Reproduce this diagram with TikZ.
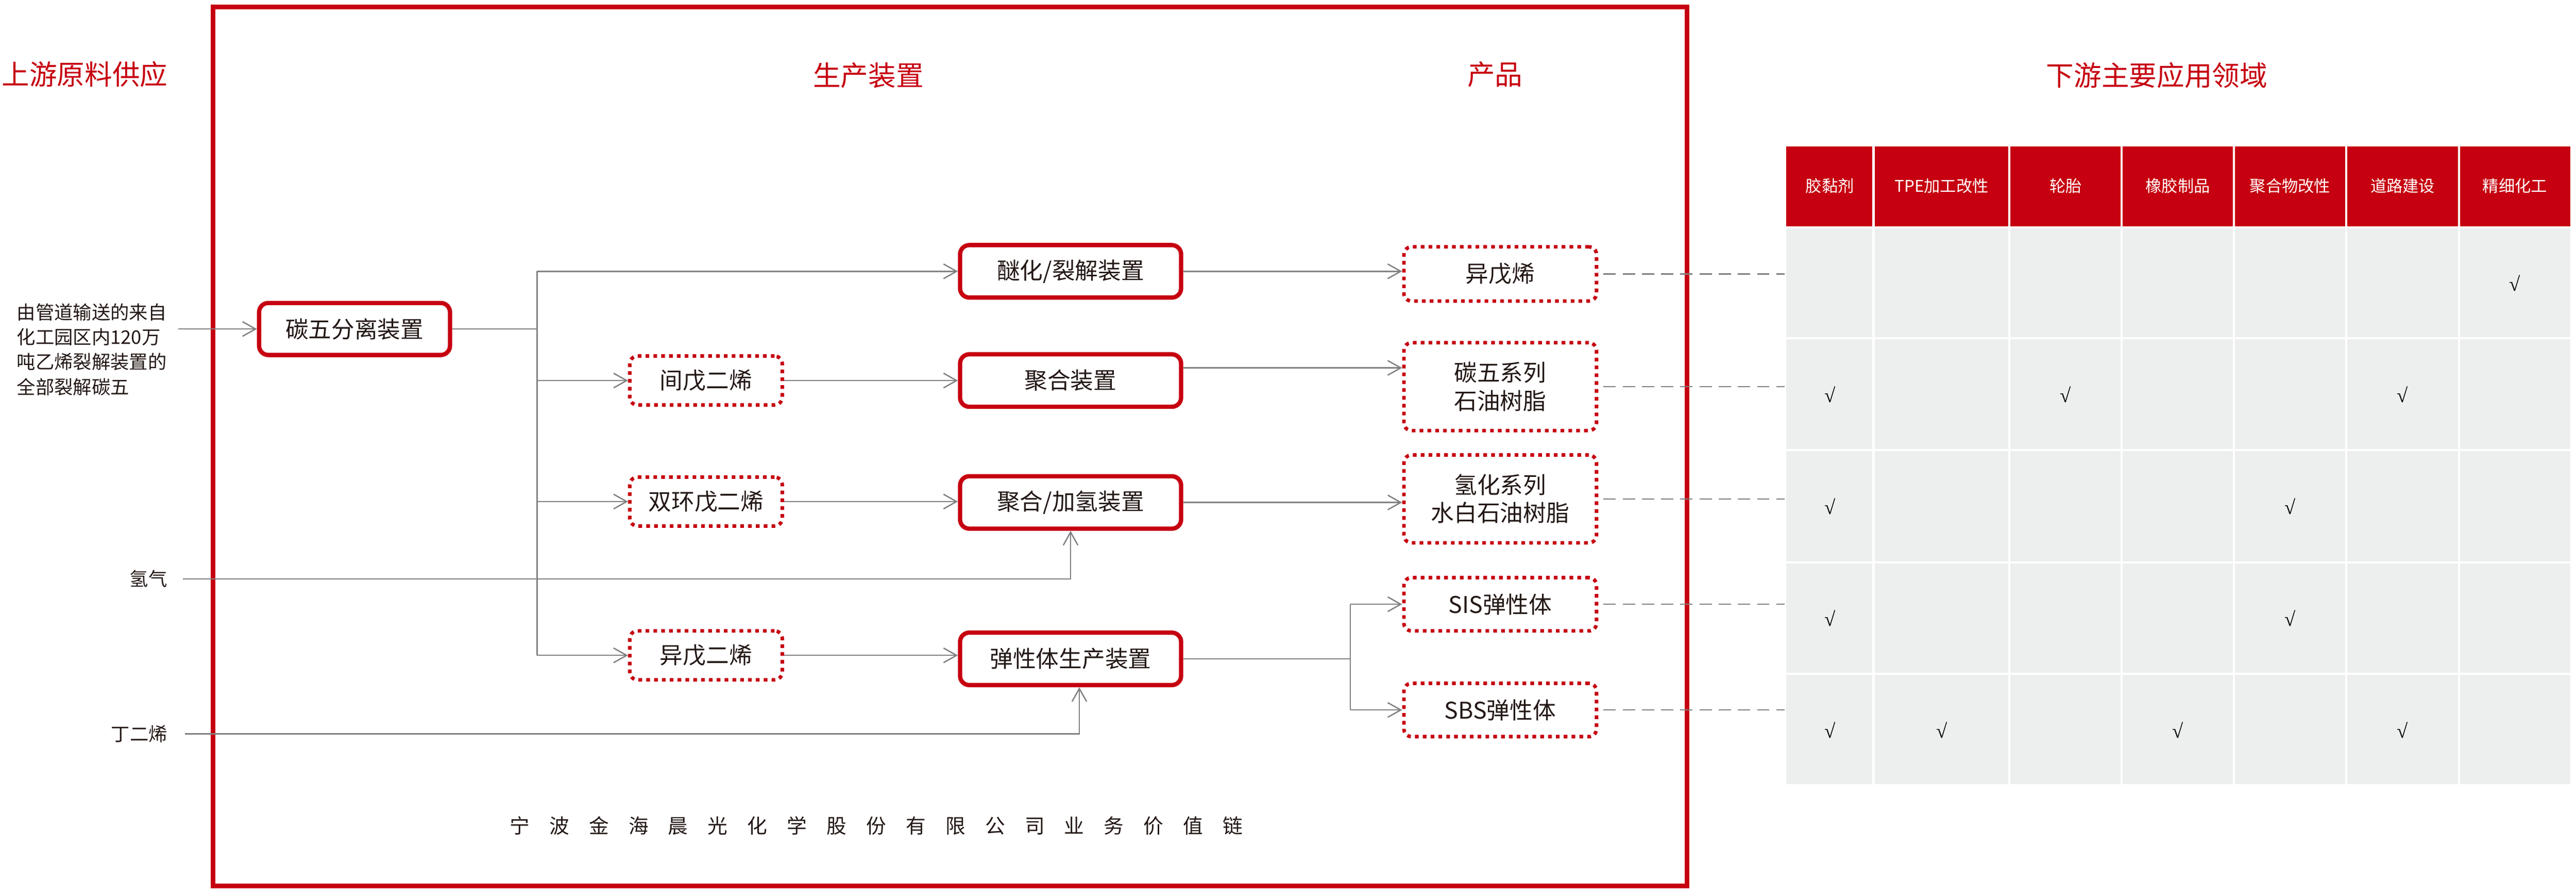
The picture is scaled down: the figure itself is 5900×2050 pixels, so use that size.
\documentclass[tikz,border=0pt]{standalone}
\usepackage{fontspec}
\setmainfont{Noto Sans CJK SC}
\newfontfamily\ckfont{Liberation Serif}
\usetikzlibrary{arrows.meta,calc}
\definecolor{cred}{RGB}{198,0,16}
\definecolor{cgray}{RGB}{128,128,128}
\definecolor{cbody}{RGB}{237,238,238}
\definecolor{ctext}{RGB}{35,24,21}
\begin{document}
\begin{tikzpicture}[x=0.01cm,y=-0.01cm,
  title/.style={text=cred,font=\fontsize{18pt}{20pt}\selectfont,inner sep=0pt},
  boxfont/.style={font=\fontsize{15pt}{18.2pt}\selectfont},
  solidbox/.style={draw=cred,line width=2.8pt,rounded corners=6pt,fill=white,
    minimum width=5.06cm,minimum height=1.2cm,text=ctext,boxfont,align=center,inner sep=0pt},
  dotbox/.style={draw=cred,line width=2.3pt,dash pattern=on 2.4pt off 2.7pt,rounded corners=5pt,
    fill=white,text=ctext,boxfont,align=center,inner sep=0pt},
  midbox/.style={dotbox,minimum width=3.49cm,minimum height=1.12cm},
  prodbox/.style={dotbox,minimum width=4.41cm},
  lefttext/.style={text=ctext,font=\fontsize{12.2pt}{16.2pt}\selectfont,inner sep=0pt},
  ln/.style={draw=cgray,line width=0.85pt},
  arr/.style={ln,-{Straight Barb[length=8.5pt,width=9.5pt]}},
  dsh/.style={draw=cgray,line width=0.85pt,dash pattern=on 8pt off 4.5pt},
  hd/.style={text=white,font=\fontsize{10.5pt}{12pt}\selectfont,inner sep=0pt},
  ck/.style={text=black,font=\ckfont\fontsize{13pt}{14pt}\selectfont,inner sep=0pt},
  comp/.style={text=ctext,font=\fontsize{13pt}{15pt}\selectfont,inner sep=0pt}
]
\useasboundingbox (0,0) rectangle (5900,2050);

% frame
\draw[cred,line width=2.85pt] (488,16) rectangle (3864,2028);

% titles
\node[title] (t1) at (194,170) {上游原料供应};
\node[title] (t2) at (1989,172) {生产装置};
\node[title] (t3) at (3424,170) {产品};
\node[title] (t4) at (4940,172) {下游主要应用领域};

% left inputs
\node[lefttext,anchor=west,align=left] (feed) at (38,800)
  {由管道输送的来自\\化工园区内120万\\吨乙烯裂解装置的\\全部裂解碳五};
\coordinate (fa) at (408,753);
\node[lefttext] (h2) at (340,1325) {氢气};
\node[lefttext] (bd) at (319,1680) {丁二烯};

% separation
\node[solidbox,minimum width=4.37cm,minimum height=1.19cm] (sep) at (812,753) {碳五分离装置};

% intermediates
\node[midbox] (jw) at (1617,871) {间戊二烯};
\node[midbox] (sh) at (1617,1148) {双环戊二烯};
\node[midbox] (yw) at (1617,1500) {异戊二烯};

% process units
\node[solidbox] (mh) at (2452,621) {醚化/裂解装置};
\node[solidbox] (jh) at (2452,871) {聚合装置};
\node[solidbox] (jq) at (2452,1150) {聚合/加氢装置};
\node[solidbox] (tx) at (2452,1508) {弹性体生产装置};

% products
\node[prodbox,minimum height=1.24cm] (p1) at (3436,627) {异戊烯};
\node[prodbox,minimum height=2.01cm] (p2) at (3436,885) {碳五系列\\石油树脂};
\node[prodbox,minimum height=2.01cm] (p3) at (3436,1142) {氢化系列\\水白石油树脂};
\node[prodbox,minimum height=1.22cm] (p4) at (3436,1383) {SIS弹性体};
\node[prodbox,minimum height=1.22cm] (p5) at (3436,1625) {SBS弹性体};

% connectors
\draw[arr] (fa) -- (sep.west);
\coordinate (tk) at (1230,757);
\draw[ln] (sep.east) -- (sep.east -| tk);
\draw[ln] (tk |- mh.west) -- (tk |- yw.west);
\draw[arr] (tk |- mh.west) -- (mh.west);
\draw[arr] (tk |- jw.west) -- (jw.west);
\draw[arr] (tk |- sh.west) -- (sh.west);
\draw[arr] (tk |- yw.west) -- (yw.west);
\draw[arr] (jw.east) -- (jw.east -| jh.west);
\draw[arr] (sh.east) -- (sh.east -| jq.west);
\draw[arr] (yw.east) -- (yw.east -| tx.west);
\draw[arr] (mh.east) -- (mh.east -| p1.west);
\coordinate (jo) at ([yshift=0.29cm]jh.east);
\draw[arr] (jo) -- (jo -| p2.west);
\draw[arr] (jq.east) -- (jq.east -| p3.west);
\coordinate (sp) at (3093,1508);
\draw[ln] (tx.east) -- (tx.east -| sp);
\draw[ln] (sp |- p4.west) -- (sp |- p5.west);
\draw[arr] (sp |- p4.west) -- (p4.west);
\draw[arr] (sp |- p5.west) -- (p5.west);
\draw[arr] ([xshift=0.35cm]h2.east) -| (jq.south);
\draw[arr] ([xshift=0.4cm]bd.east) -| ([xshift=0.2cm]tx.south);

% company line
\newcommand\gp{\hspace{0.45cm}}
\node[comp] (co) at (2007,1890) {宁\gp 波\gp 金\gp 海\gp 晨\gp 光\gp 化\gp 学\gp 股\gp 份\gp 有\gp 限\gp 公\gp 司\gp 业\gp 务\gp 价\gp 值\gp 链};

% table
\coordinate (tl) at (4087,0);
\foreach \p in {p1,p2,p3,p4,p5}
  \draw[dsh] ([xshift=0.12cm]\p.east) -- (\p.east -| tl);
\fill[cred] (4091,335) rectangle (5887,518);
\fill[cbody] (4091,518) rectangle (5887,1795);
\foreach \x in {4291,4602,4859,5116,5374,5632}
  \draw[white,line width=1.4pt] (\x,335) -- (\x,1795);
\foreach \y in {520.5,774.5,1030.5,1287.5,1542.5}
  \draw[white,line width=1.4pt] (4091,\y) -- (5887,\y);

\node[hd] (h1) at (4191,426) {胶黏剂};
\node[hd] (h2h) at (4447,426) {TPE加工改性};
\node[hd] (h3) at (4731,426) {轮胎};
\node[hd] (h4) at (4988,426) {橡胶制品};
\node[hd] (h5) at (5245,426) {聚合物改性};
\node[hd] (h6) at (5503,426) {道路建设};
\node[hd] (h7) at (5760,426) {精细化工};

\node[ck] (c17) at (5760,648) {√};
\node[ck] (c21) at (4191,903) {√};
\node[ck] (c23) at (4731,903) {√};
\node[ck] (c26) at (5503,903) {√};
\node[ck] (c31) at (4191,1159) {√};
\node[ck] (c35) at (5245,1159) {√};
\node[ck] (c41) at (4191,1415) {√};
\node[ck] (c45) at (5245,1415) {√};
\node[ck] (c51) at (4191,1671) {√};
\node[ck] (c52) at (4447,1671) {√};
\node[ck] (c54) at (4988,1671) {√};
\node[ck] (c56) at (5503,1671) {√};
\end{tikzpicture}
\end{document}
